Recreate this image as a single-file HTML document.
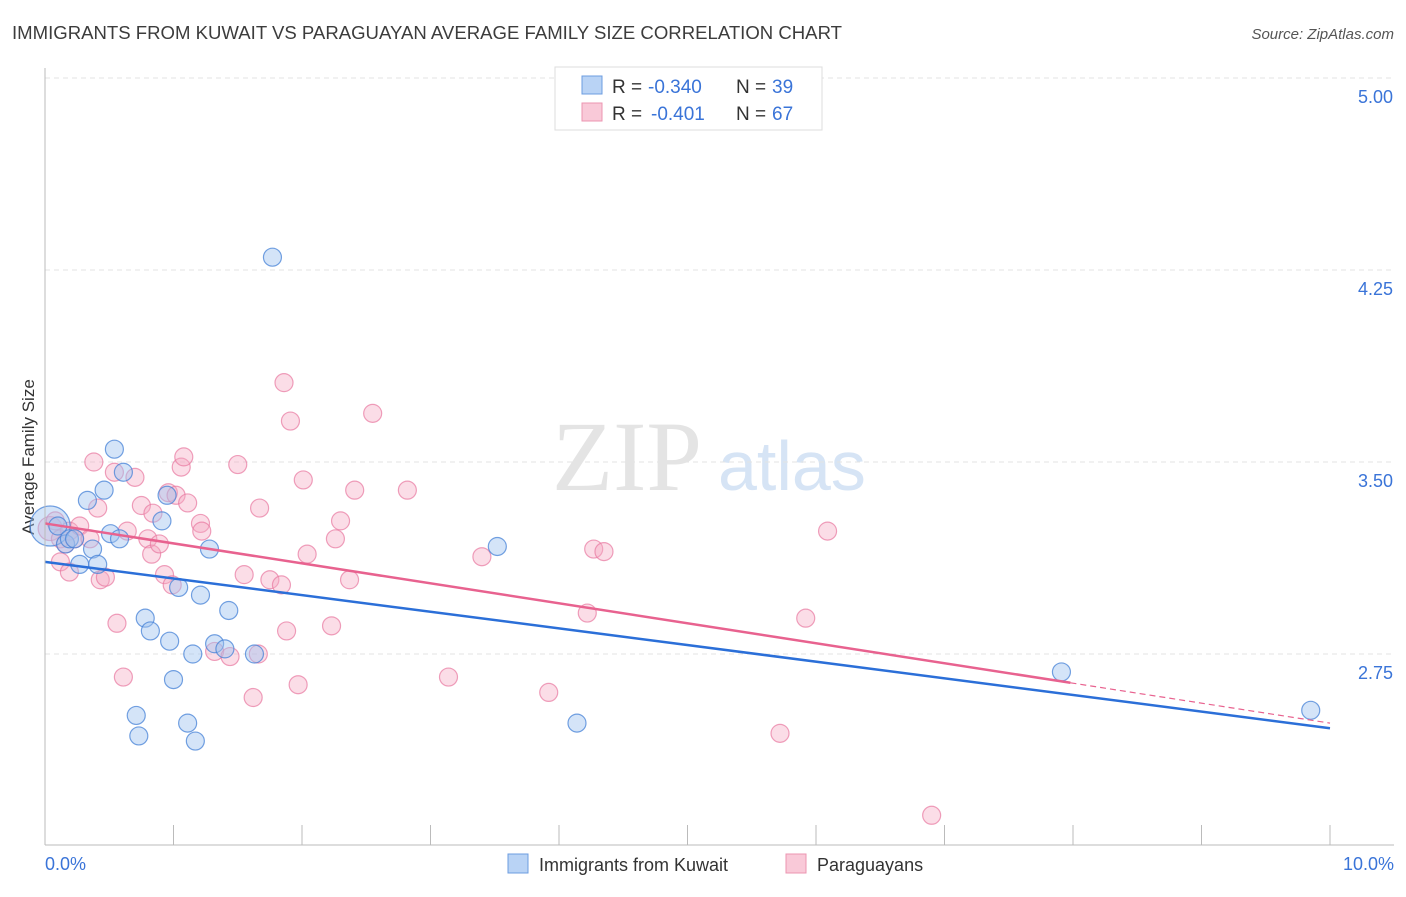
<!DOCTYPE html>
<html><head><meta charset="utf-8"><style>
body{margin:0;background:#fff;font-family:"Liberation Sans",sans-serif;}
#wrap{position:relative;width:1406px;height:892px;}
</style></head><body>
<div id="wrap">
<svg id="svg" width="1406" height="892" xmlns="http://www.w3.org/2000/svg">
<text x="12" y="39" font-size="18" fill="#3c3c3c" textLength="830" lengthAdjust="spacingAndGlyphs">IMMIGRANTS FROM KUWAIT VS PARAGUAYAN AVERAGE FAMILY SIZE CORRELATION CHART</text>
<text x="1394" y="39" font-size="15" fill="#555" font-style="italic" text-anchor="end">Source: ZipAtlas.com</text>
<text x="34" y="457" font-size="17" fill="#333" text-anchor="middle" transform="rotate(-90 34 457)">Average Family Size</text>
<text x="552" y="490" font-size="100" fill="#e4e4e4" font-family="Liberation Serif,serif">ZIP</text>
<text x="718" y="490" font-size="70" fill="#d6e4f5">atlas</text>
<g id="grid"></g><g id="pts"></g><g id="lines"></g>
<line x1="45" y1="68" x2="45" y2="845" stroke="#bbb"/>
<line x1="45" y1="845" x2="1394" y2="845" stroke="#bbb"/>
<text x="45" y="870" font-size="18" fill="#3a74d8">0.0%</text>
<text x="1394" y="870" font-size="18" fill="#3a74d8" text-anchor="end">10.0%</text>
<g>
<rect x="555" y="67" width="267" height="63" fill="#fff" stroke="#ddd"/>
<rect x="582" y="76" width="20" height="18" fill="#b9d3f5" stroke="#6c9de0"/>
<rect x="582" y="103" width="20" height="18" fill="#f9c9d8" stroke="#ec95b1"/>
<text x="612" y="93" font-size="19" fill="#333">R =</text>
<text x="648" y="93" font-size="19" fill="#3a74d8">-0.340</text>
<text x="736" y="93" font-size="19" fill="#333">N =</text>
<text x="772" y="93" font-size="19" fill="#3a74d8">39</text>
<text x="612" y="120" font-size="19" fill="#333">R =</text>
<text x="651" y="120" font-size="19" fill="#3a74d8">-0.401</text>
<text x="736" y="120" font-size="19" fill="#333">N =</text>
<text x="772" y="120" font-size="19" fill="#3a74d8">67</text>
</g>
<g>
<rect x="508" y="854" width="20" height="19" fill="#b9d3f5" stroke="#6c9de0"/>
<text x="539" y="871" font-size="18" fill="#333">Immigrants from Kuwait</text>
<rect x="786" y="854" width="20" height="19" fill="#f9c9d8" stroke="#ec95b1"/>
<text x="817" y="871" font-size="18" fill="#333">Paraguayans</text>
</g>
</svg></div>
<script>
const yTicks=[5.00,4.25,3.50,2.75];
const xTickVals=[0,1,2,3,4,5,6,7,8,9,10];
const blueX=[0.04,0.10,0.16,0.19,0.23,0.33,0.37,0.41,0.27,0.46,0.54,0.61,0.51,0.58,0.91,0.95,1.28,1.04,0.78,0.82,1.21,1.43,0.97,1.32,1.40,1.15,1.63,1.00,0.71,0.73,1.11,1.17,1.77,3.52,4.14,7.91,9.85];
const blueY=[3.25,3.25,3.18,3.20,3.20,3.35,3.16,3.10,3.10,3.39,3.55,3.46,3.22,3.20,3.27,3.37,3.16,3.01,2.89,2.84,2.98,2.92,2.80,2.79,2.77,2.75,2.75,2.65,2.51,2.43,2.48,2.41,4.30,3.17,2.48,2.68,2.53];
const pinkX=[0.04,0.08,0.12,0.16,0.19,0.23,0.27,0.35,0.38,0.41,0.12,0.19,0.43,0.47,0.54,0.64,0.70,0.75,0.80,0.84,0.83,0.89,0.96,1.02,1.06,1.08,1.11,1.21,1.22,0.93,0.99,0.56,0.61,1.50,1.55,1.67,1.75,1.84,1.86,1.91,2.01,2.04,1.88,1.97,1.32,1.44,1.66,1.62,2.26,2.30,2.37,2.41,2.55,2.23,2.82,3.14,3.40,3.92,4.22,4.27,4.35,5.72,5.92,6.09,6.90];
const pinkY=[3.24,3.27,3.20,3.18,3.23,3.20,3.25,3.20,3.50,3.32,3.11,3.07,3.04,3.05,3.46,3.23,3.44,3.33,3.20,3.30,3.14,3.18,3.38,3.37,3.48,3.52,3.34,3.26,3.23,3.06,3.02,2.87,2.66,3.49,3.06,3.32,3.04,3.02,3.81,3.66,3.43,3.14,2.84,2.63,2.76,2.74,2.75,2.58,3.20,3.27,3.04,3.39,3.69,2.86,3.39,2.66,3.13,2.60,2.91,3.16,3.15,2.44,2.89,3.23,2.12];
const blueTrend=[3.11,2.46];
const pinkTrend=[3.26,2.48];
const pinkSolidEnd=7.98;
const X=v=>45+v*128.5, Y=v=>78+(5-v)*256;
const NS='http://www.w3.org/2000/svg';
function mk(t,a,p){const e=document.createElementNS(NS,t);for(const k in a)e.setAttribute(k,a[k]);p.appendChild(e);return e;}
const g=document.getElementById('grid');
yTicks.forEach(v=>{
 const l=mk('line',{x1:45,x2:1394,y1:Y(v),y2:Y(v),stroke:'#e3e3e3','stroke-dasharray':'5,4'},g);
 
 
 const t=mk('text',{x:1393,y:Y(v)+25,'font-size':18,fill:'#3a74d8','text-anchor':'end'},g);
 t.textContent=v.toFixed(2);
 
 
});
xTickVals.forEach(v=>{
 const l=mk('line',{x1:X(v),x2:X(v),y1:825,y2:845,stroke:'#bbb'},g);
 
 
});
const p=document.getElementById('pts');
pinkX.forEach((x,i)=>{
 const c=mk('circle',{cx:X(x),cy:Y(pinkY[i]),r:i==0?12:9,fill:'rgba(246,170,195,0.4)',stroke:'rgba(232,120,160,0.7)','stroke-width':1.2},p);
 
 
});
blueX.forEach((x,i)=>{
 const c=mk('circle',{cx:X(x),cy:Y(blueY[i]),r:i==0?20:9,fill:'rgba(160,196,240,0.45)',stroke:'rgba(70,130,215,0.75)','stroke-width':1.2},p);
 
 
});
const L=document.getElementById('lines');
const bl=mk('line',{x1:X(0),y1:Y(blueTrend[0]),x2:X(10),y2:Y(blueTrend[1]),stroke:'#2b6fd8','stroke-width':2.5},L);


const pe=pinkTrend[0]+(pinkTrend[1]-pinkTrend[0])*pinkSolidEnd/10;
const pl=mk('line',{x1:X(0),y1:Y(pinkTrend[0]),x2:X(pinkSolidEnd),y2:Y(pe),stroke:'#e8628f','stroke-width':2.5},L);


const pd=mk('line',{x1:X(pinkSolidEnd),y1:Y(pe),x2:X(10),y2:Y(pinkTrend[1]),stroke:'#e8628f','stroke-width':1.2,'stroke-dasharray':'6,4'},L);


</script>
</body></html>
